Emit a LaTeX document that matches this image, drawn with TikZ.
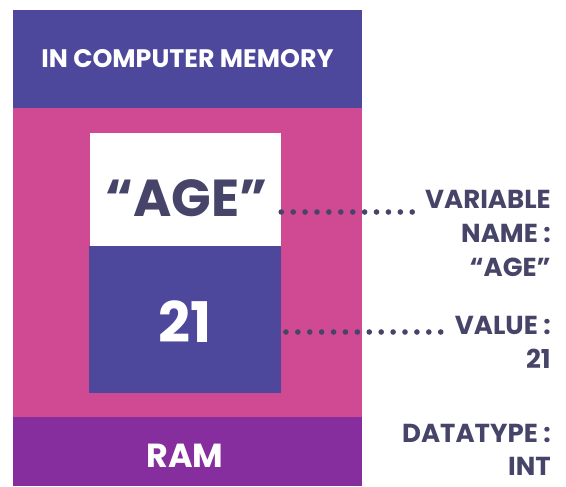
\documentclass[tikz,border=0pt]{standalone}
\usepackage{fontspec}
\setmainfont{Poppins}
\definecolor{memblue}{HTML}{4D489C}
\definecolor{mempink}{HTML}{D04A93}
\definecolor{ramviolet}{HTML}{862E9E}
\definecolor{labelink}{HTML}{464468}
\tikzset{
  block/.style={rectangle, inner sep=0pt, draw=none},
  boxtext/.style={text=white, font=\bfseries},
  sidetext/.style={text=labelink, font=\bfseries\fontsize{19.5}{25.5}\selectfont, align=right, anchor=north east, inner sep=0pt},
  dotline/.style={labelink, line width=4.2pt, line cap=round, dash pattern=on 0pt off 8.93pt}
}
\begin{document}
\begin{tikzpicture}[x=0.75pt, y=-0.75pt]
    \useasboundingbox (0,0) rectangle (566,486);
    % column
    \node[block, fill=memblue,   minimum width=261.75pt, minimum height=73.5pt]  (header) at (187.5, 59)   {};
    \node[block, fill=mempink,   minimum width=261.75pt, minimum height=231.75pt] (cell)  at (187.5, 262.5) {};
    \node[block, fill=ramviolet, minimum width=261.75pt, minimum height=51.75pt]  (ram)   at (187.5, 451.5) {};
    \node[block, fill=white,     minimum width=143.25pt, minimum height=84.75pt]  (namebox)  at (185.5, 189.5) {};
    \node[block, fill=memblue,   minimum width=144pt,    minimum height=110.25pt] (valuebox) at (185, 319.5)   {};
    % texts in the column
    \node[boxtext, font=\bfseries\fontsize{19}{22}\selectfont] (headertext) at (187.5, 58.5) {IN COMPUTER MEMORY};
    \node[boxtext, font=\bfseries\fontsize{25}{28}\selectfont]  (ramtext)    at (185, 456) {RAM};
    \node[text=labelink, font=\bfseries\fontsize{39}{44}\selectfont] (nametext) at (186.5, 198) {“AGE”};
    \node[boxtext, font=\bfseries\fontsize{42}{48}\selectfont]  (valuetext)  at (185, 322) {21};
    % side labels
    \node[sidetext] (namelabel)  at (551, 190) {VARIABLE\\NAME :\\“AGE”};
    \node[sidetext] (valuelabel) at (551, 316) {VALUE :\\21};
    \node[sidetext, font=\bfseries\fontsize{19.5}{24.5}\selectfont] (typelabel) at (551, 424) {DATATYPE :\\INT};
    % dotted connectors
    \coordinate (namedot)  at (413, 212);
    \coordinate (valuedot) at (442, 332);
    \draw[dotline] (namedot -| namebox.east) -- (namedot);
    \draw[dotline] ([xshift=3.5pt]valuedot -| valuebox.east) -- (valuedot);
\end{tikzpicture}
\end{document}
